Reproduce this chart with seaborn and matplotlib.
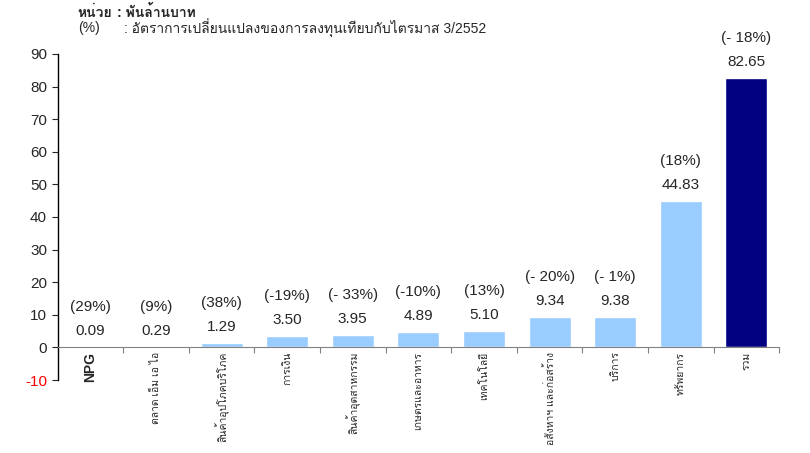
import matplotlib
matplotlib.use('Agg')
import matplotlib.pyplot as plt
from matplotlib import font_manager
from matplotlib.ft2font import FT2Font
import seaborn as sns

# data
sectors = ['NPG', 'ตลาด เอ็ม เอ ไอ', 'สินค้าอุปโภคบริโภค', 'การเงิน', 'สินค้าอุตสาหกรรม',
           'เกษตรและอาหาร', 'เทคโนโลยี', 'อสังหาฯ และก่อสร้าง', 'บริการ', 'ทรัพยากร', 'รวม']
investment = [0.09, 0.29, 1.29, 3.50, 3.95, 4.89, 5.10, 9.34, 9.38, 44.83, 82.65]
change_pct = ['(29%)', '(9%)', '(38%)', '(-19%)', '(- 33%)', '(-10%)', '(13%)',
              '(- 20%)', '(- 1%)', '(18%)', '(- 18%)']
header = [('หน่วย', ': พันล้านบาท'),
          ('(%)', ': อัตราการเปลี่ยนแปลงของการลงทุนเทียบกับไตรมาส 3/2552')]


def thai_font():
    # look for any installed font that has Thai glyphs
    for f in font_manager.fontManager.ttflist:
        try:
            if FT2Font(f.fname).get_char_index(ord('ก')):
                return f.name
        except Exception:
            pass
    return None


sns.set_style('white')
fams = ['Liberation Sans', 'DejaVu Sans']
tf = thai_font()
if tf:
    fams.insert(1, tf)
plt.rcParams['font.family'] = fams
plt.rcParams['axes.unicode_minus'] = False

colors = ['#99CCFF'] * (len(sectors) - 1) + ['#000080']

fig = plt.figure(figsize=(8.1, 4.53), dpi=100)
ax = fig.add_axes([0.071, 0.161, 0.891, 0.72])

sns.barplot(x=sectors, y=investment, hue=sectors, palette=colors, legend=False,
            width=0.64, saturation=1, ax=ax)

ax.set_ylim(-10, 90)
ax.set_xlim(-0.5, len(sectors) - 0.5)
ax.set_yticks(range(-10, 91, 10))
ax.tick_params(axis='y', labelsize=11, length=4, direction='out', left=True, width=0.8)

# category boundaries as ticks, names in between
ax.set_xticks([i - 0.5 for i in range(len(sectors) + 1)])
ax.set_xticklabels([])
ax.set_xticks(range(len(sectors)), minor=True)
ax.set_xticklabels(sectors, minor=True)
ax.tick_params(axis='x', which='major', length=4, direction='out', bottom=True,
               color='#808080')
ax.tick_params(axis='x', which='minor', length=0, pad=3, labelrotation=90,
               labelsize=7.5)

ax.spines['top'].set_visible(False)
ax.spines['right'].set_visible(False)
ax.spines['bottom'].set_position(('data', 0))
ax.spines['bottom'].set_color('#808080')
ax.spines['left'].set_color('black')
ax.spines['left'].set_linewidth(1.0)

for i, (v, p) in enumerate(zip(investment, change_pct)):
    ax.annotate(f'{v:.2f}', (i, v), xytext=(0, 16), textcoords='offset pixels',
                ha='center', va='center', fontsize=11)
    ax.annotate(p, (i, v), xytext=(0, 40), textcoords='offset pixels',
                ha='center', va='center', fontsize=11)

fig.text(0.096, 0.972, header[0][0], fontsize=10, fontweight='bold', va='center')
fig.text(0.145, 0.972, header[0][1], fontsize=10, fontweight='bold', va='center')
fig.text(0.096, 0.938, header[1][0], fontsize=10, va='center')
fig.text(0.153, 0.938, header[1][1], fontsize=10, va='center')

fig.canvas.draw()
for t in ax.get_yticklabels():
    if t.get_text() in ('-10', '−10'):
        t.set_color('red')
for tick in ax.xaxis.get_minor_ticks():
    tick.label1.set_va('top')
    if tick.label1.get_text() == 'NPG':
        tick.label1.set_fontsize(10)
        tick.label1.set_fontweight('bold')

fig.savefig('out.png', dpi=100)
